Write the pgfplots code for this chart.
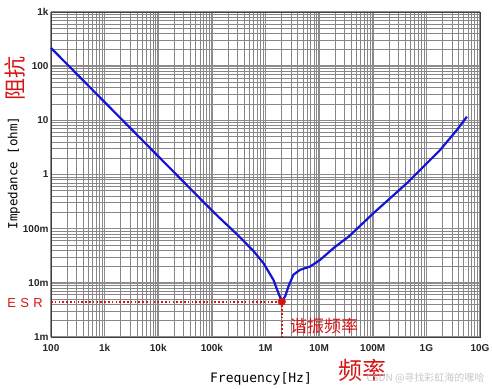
\documentclass[border=0pt]{standalone}
\usepackage{fontspec}
\setmainfont{Liberation Sans}
\newfontfamily\cjk{Noto Sans CJK SC}
\newfontfamily\mono{DejaVu Sans Mono}
\usepackage{pgfplots}
\pgfplotsset{compat=1.18}
\definecolor{curve}{RGB}{20,20,215}
\definecolor{annot}{RGB}{215,20,20}
\definecolor{majgrid}{RGB}{140,140,140}
\definecolor{mingrid}{RGB}{135,135,135}
\begin{document}
\begin{tikzpicture}[x=1pt,y=1pt]
\useasboundingbox (0,0) rectangle (492,388);
\begin{axis}[
  at={(51pt,51pt)}, anchor=south west,
  scale only axis, width=429pt, height=325pt,
  xmode=log, ymode=log,
  xmin=100, xmax=1e10, ymin=1e-3, ymax=1e3,
  xtick={1e2,1e3,1e4,1e5,1e6,1e7,1e8,1e9,1e10},
  xticklabels={100,1k,10k,100k,1M,10M,100M,1G,10G},
  ytick={1e-3,1e-2,1e-1,1,10,100,1000},
  yticklabels={1m,10m,100m,1,10,100,1k},
  /pgf/number format/assume math mode=true,
  tick label style={font=\bfseries\fontsize{10}{12}\selectfont, text=black!85},
  xticklabel style={yshift=-4pt},
  yticklabel style={xshift=1pt},
  major tick length=0pt, minor tick length=0pt,
  grid=both,
  major grid style={draw=majgrid, line width=1.6pt},
  minor grid style={draw=mingrid, line width=0.75pt},
  axis line style={draw=black!75, line width=0.9pt},
  clip=false,
]
\addplot[curve, line width=2.2pt] coordinates {
(100,216.8) (316,68.6) (1000,21.7) (3162,6.86) (10000,2.17) (31623,0.686)
(100000,0.217) (142200,0.155) (291100,0.0794) (594300,0.0389) (914100,0.0231)
(1406000,0.01135) (1742000,0.00646) (2014000,0.00452) (2323000,0.00562)
(2673000,0.00851) (3311000,0.01413) (4416000,0.01738) (6761000,0.01995)
(10470000,0.0266) (18490000,0.0437) (35240000,0.0708) (103000000,0.1932)
(432500000,0.690) (1807000000,2.844) (3715000000,6.65) (5702000000,11.7)
};
\addplot[annot, line width=1.8pt, dash pattern=on 1.6pt off 2.2pt] coordinates {(100,0.0045) (2014000,0.0045)};
\addplot[annot, line width=1.8pt, dash pattern=on 1.6pt off 2.2pt] coordinates {(2014000,0.0045) (2014000,0.001)};
\addplot[only marks, mark=*, mark size=3.8pt, annot] coordinates {(2014000,0.0045)};
\end{axis}
\node[annot, font=\fontsize{13}{14}\selectfont] at (25,85) {E\,\,S\,\,R};
\node[annot, font=\cjk\fontsize{17}{18}\selectfont] at (324,62) {谐振频率};
\node[annot, font=\cjk\fontsize{24}{26}\selectfont] at (362,18) {频率};
\node[annot, font=\cjk\fontsize{22}{24}\selectfont, rotate=90] at (15,309) {阻抗};
\node[font=\mono\fontsize{12.5}{14}\selectfont, rotate=90] at (14,215) {Impedance [ohm]};
\node[font=\mono\fontsize{13}{14}\selectfont] at (261,9) {Frequency[Hz]};
\node[black!22, font=\cjk\fontsize{10}{12}\selectfont, anchor=east] at (488,10) {CSDN @寻找彩虹海的嘿哈};
\end{tikzpicture}
\end{document}
